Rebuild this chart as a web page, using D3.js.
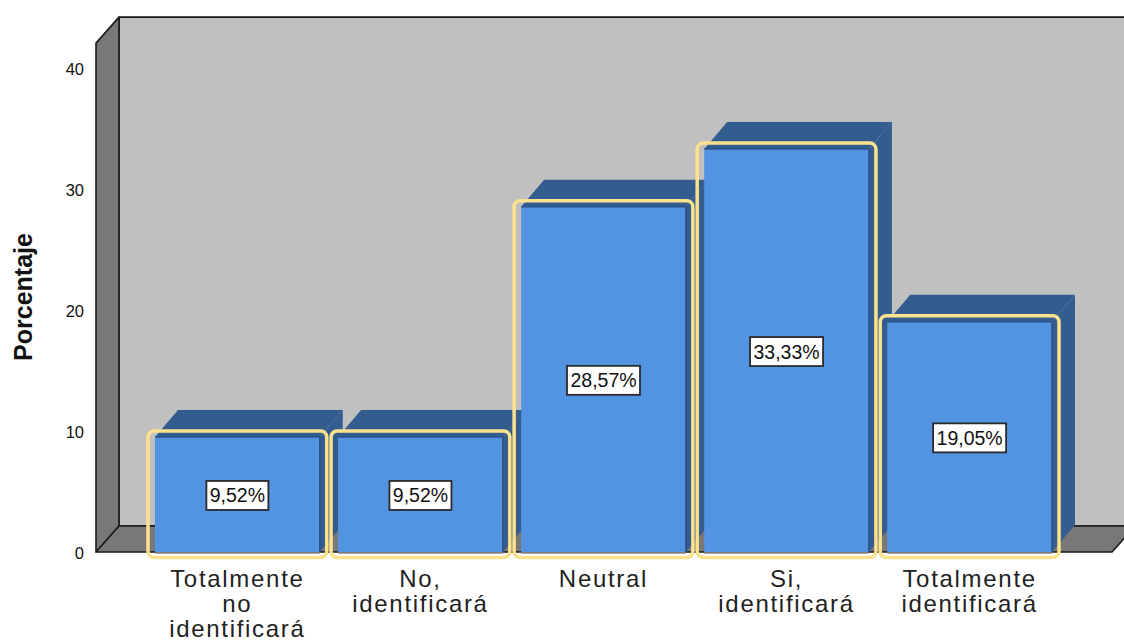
<!DOCTYPE html>
<html lang="es">
<head>
    <meta charset="UTF-8">
    <title>Porcentaje</title>
    <script src="https://d3js.org/d3.v7.min.js" charset="utf-8"></script>
    <style>
        body { margin: 0; background: #fff; overflow: hidden; }
        svg { display: block; }
        text { font-family: "Liberation Sans", Arial, sans-serif; }
    </style>
</head>
<body>
    <script>
        var categories = [
            ["Totalmente", "no", "identificará"],
            ["No,", "identificará"],
            ["Neutral"],
            ["Si,", "identificará"],
            ["Totalmente", "identificará"]
        ];
        var percentages = [9.52, 9.52, 28.57, 33.33, 19.05];
        var percentLabels = ["9,52%", "9,52%", "28,57%", "33,33%", "19,05%"];
        var yTicks = [0, 10, 20, 30, 40];

        var width = 1124;
        var height = 642;

        // offset of the back plane from the front plane
        var depthX = 23;
        var depthY = -26;
        var barDepthY = -27;

        var plotLeft = 96;
        var plotRight = 1112;

        var svg = d3.select("body")
            .append("svg")
            .attr("width", width)
            .attr("height", height);

        var x = d3.scaleBand()
            .domain(d3.range(categories.length))
            .range([155, 1052])
            .paddingInner(0.1)
            .paddingOuter(0);

        var y = d3.scaleLinear()
            .domain([0, 40])
            .range([552, 68.5]);

        var yTop = y(42.1);
        var yBase = y(0);

        function poly(points) {
            return d3.line()(points) + "Z";
        }

        // back wall, left wall and floor
        var room = svg.append("g")
            .attr("stroke", "#1a1a1a")
            .attr("stroke-width", 1.6)
            .attr("stroke-linejoin", "round");

        room.append("path")
            .attr("fill", "#c0c0c0")
            .attr("d", poly([
                [plotLeft + depthX, yTop + depthY],
                [plotRight + depthX, yTop + depthY],
                [plotRight + depthX, yBase + depthY],
                [plotLeft + depthX, yBase + depthY]
            ]));

        room.append("path")
            .attr("fill", "#787878")
            .attr("d", poly([
                [plotLeft, yTop],
                [plotLeft + depthX, yTop + depthY],
                [plotLeft + depthX, yBase + depthY],
                [plotLeft, yBase]
            ]));

        room.append("path")
            .attr("fill", "#787878")
            .attr("d", poly([
                [plotLeft, yBase],
                [plotLeft + depthX, yBase + depthY],
                [plotRight + depthX, yBase + depthY],
                [plotRight, yBase]
            ]));

        // y axis, labels only
        var yAxis = d3.axisLeft(y)
            .tickValues(yTicks)
            .tickSize(0)
            .tickPadding(12);

        var yAxisG = svg.append("g")
            .attr("transform", "translate(" + plotLeft + ",1)")
            .call(yAxis);
        yAxisG.select(".domain").remove();
        yAxisG.selectAll("text")
            .attr("font-size", 16.5)
            .attr("fill", "#111");

        svg.append("text")
            .attr("transform", "translate(32,297) rotate(-90)")
            .attr("text-anchor", "middle")
            .attr("font-size", 25)
            .attr("font-weight", "bold")
            .attr("fill", "#111")
            .text("Porcentaje");

        // 3d bars
        var bars = svg.selectAll(".bar")
            .data(percentages)
            .enter()
            .append("g")
            .attr("class", "bar");

        bars.append("path")
            .attr("fill", "#335c8f")
            .attr("d", function(d, i) {
                var l = x(i), r = l + x.bandwidth(), t = y(d);
                return poly([
                    [l, t],
                    [l + depthX, t + barDepthY],
                    [r + depthX, t + barDepthY],
                    [r, t]
                ]);
            });

        bars.append("path")
            .attr("fill", "#335c8f")
            .attr("d", function(d, i) {
                var r = x(i) + x.bandwidth(), t = y(d);
                return poly([
                    [r, t],
                    [r + depthX, t + barDepthY],
                    [r + depthX, yBase + barDepthY],
                    [r, yBase]
                ]);
            });

        bars.append("rect")
            .attr("x", function(d, i) { return x(i); })
            .attr("y", function(d) { return y(d); })
            .attr("width", x.bandwidth())
            .attr("height", function(d) { return yBase - y(d); })
            .attr("fill", "#5294e2");

        bars.append("path")
            .attr("fill", "none")
            .attr("stroke", "#2c5288")
            .attr("stroke-width", 1.5)
            .attr("d", function(d, i) {
                var l = x(i), r = l + x.bandwidth(), t = y(d);
                return d3.line()([[l, t], [r, t], [r, yBase]]);
            });

        bars.append("path")
            .attr("fill", "none")
            .attr("stroke", "#8a8a8a")
            .attr("stroke-width", 1.5)
            .attr("d", function(d, i) {
                return d3.line()([[x(i), yBase + 1], [x(i) + x.bandwidth(), yBase + 1]]);
            });

        // selection outline around each bar
        bars.append("rect")
            .attr("x", function(d, i) { return x(i) - 7; })
            .attr("y", function(d) { return y(d) - 6; })
            .attr("width", x.bandwidth() + 14)
            .attr("height", function(d) { return yBase - y(d) + 11.5; })
            .attr("rx", 6)
            .attr("fill", "none")
            .attr("stroke", "#fde28e")
            .attr("stroke-width", 3.5);

        // value labels
        var labels = svg.selectAll(".value")
            .data(percentages)
            .enter()
            .append("g")
            .attr("class", "value")
            .attr("transform", function(d, i) {
                return "translate(" + (x(i) + x.bandwidth() / 2) + "," + (y(d / 2) + 1) + ")";
            });

        labels.append("rect")
            .attr("x", function(d, i) { return percentLabels[i].length > 5 ? -36.5 : -31; })
            .attr("y", -14.5)
            .attr("width", function(d, i) { return percentLabels[i].length > 5 ? 73 : 62; })
            .attr("height", 29)
            .attr("fill", "#fff")
            .attr("stroke", "#2a2a2a")
            .attr("stroke-width", 1.8);

        labels.append("text")
            .attr("text-anchor", "middle")
            .attr("dy", "0.36em")
            .attr("font-size", 19.5)
            .attr("fill", "#111")
            .text(function(d, i) { return percentLabels[i]; });

        // category labels, one text line per row
        var cats = svg.selectAll(".cat")
            .data(categories)
            .enter()
            .append("text")
            .attr("class", "cat")
            .attr("text-anchor", "middle")
            .attr("font-size", 24)
            .attr("letter-spacing", 1.7)
            .attr("fill", "#222");

        cats.selectAll("tspan")
            .data(function(d, i) {
                return d.map(function(line) { return { line: line, i: i }; });
            })
            .enter()
            .append("tspan")
            .attr("x", function(d) { return x(d.i) + x.bandwidth() / 2; })
            .attr("y", function(d, j) { return 587 + j * 25; })
            .text(function(d) { return d.line; });
    </script>
</body>
</html>
